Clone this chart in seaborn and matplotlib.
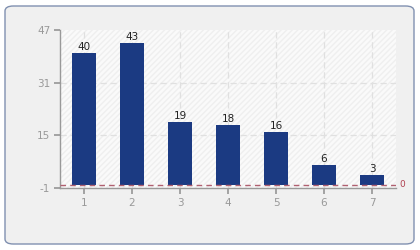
import matplotlib
matplotlib.use("Agg")
import matplotlib.pyplot as plt
from matplotlib.patches import FancyBboxPatch, Rectangle
import seaborn as sns
import pandas as pd

categories = ["1", "2", "3", "4", "5", "6", "7"]
values = [40, 43, 19, 18, 16, 6, 3]
yticks = [-1, 15, 31, 47]
ref_value = 0

sns.set_theme(style="white")
plt.rcParams['font.family'] = ['DejaVu Sans']
plt.rcParams['axes.unicode_minus'] = False

fig = plt.figure(figsize=(4.2, 2.5), dpi=100)
fig.patch.set_facecolor("white")
panel = FancyBboxPatch((5/420, 6/250), 409/420, 238/250,
                       boxstyle="round,pad=0,rounding_size=0.02",
                       transform=fig.transFigure, facecolor="#f0f0f0",
                       edgecolor="#8090b0", linewidth=1.0, zorder=-10)
fig.patches.append(panel)

ax = fig.add_axes([60/420, 62/250, 336/420, 158/250])
ax.set_zorder(5)
ax.set_facecolor("#fafafa")
# hatched background
bg = Rectangle((0, 0), 1, 1, transform=ax.transAxes, facecolor="#fafafa",
               edgecolor="#efefef", hatch="//////", linewidth=0, zorder=0)
ax.add_patch(bg)

df = pd.DataFrame({"cat": categories, "val": values})
sns.barplot(data=df, x="cat", y="val", color="#1b3a82", saturation=1,
            width=0.5, ax=ax, zorder=3, linewidth=0)

ax.set_ylim(-1, 47)
ax.set_xlim(-0.5, 6.5)
ax.set_yticks(yticks)
ax.set_xlabel("")
ax.set_ylabel("")

for i, v in enumerate(values):
    ax.text(i, v + 0.3, str(v), ha="center", va="bottom", fontsize=7.5,
            color="#222222", zorder=5)

for y in [15, 31]:
    ax.axhline(y, color="#e0e0e0", linestyle=(0, (5, 3)), linewidth=0.9, zorder=1)
for i in range(len(categories)):
    ax.axvline(i, color="#e0e0e0", linestyle=(0, (5, 3)), linewidth=0.9, zorder=1)

ax.axhline(ref_value, color="#b06070", linestyle=(0, (4, 3)), linewidth=1.0, zorder=4)
ax.text(1.01, ref_value, "0", transform=ax.get_yaxis_transform(), color="#b04050",
        fontsize=6.5, va="center", ha="left")

for s in ["top", "right"]:
    ax.spines[s].set_visible(False)
for s in ["left", "bottom"]:
    ax.spines[s].set_color("#999999")
    ax.spines[s].set_linewidth(1.0)

ax.tick_params(axis="both", which="both", direction="out", length=4,
               color="#999999", labelcolor="#999999", labelsize=7.5,
               left=True, bottom=True, pad=3)

fig.savefig("out.png", dpi=100)
